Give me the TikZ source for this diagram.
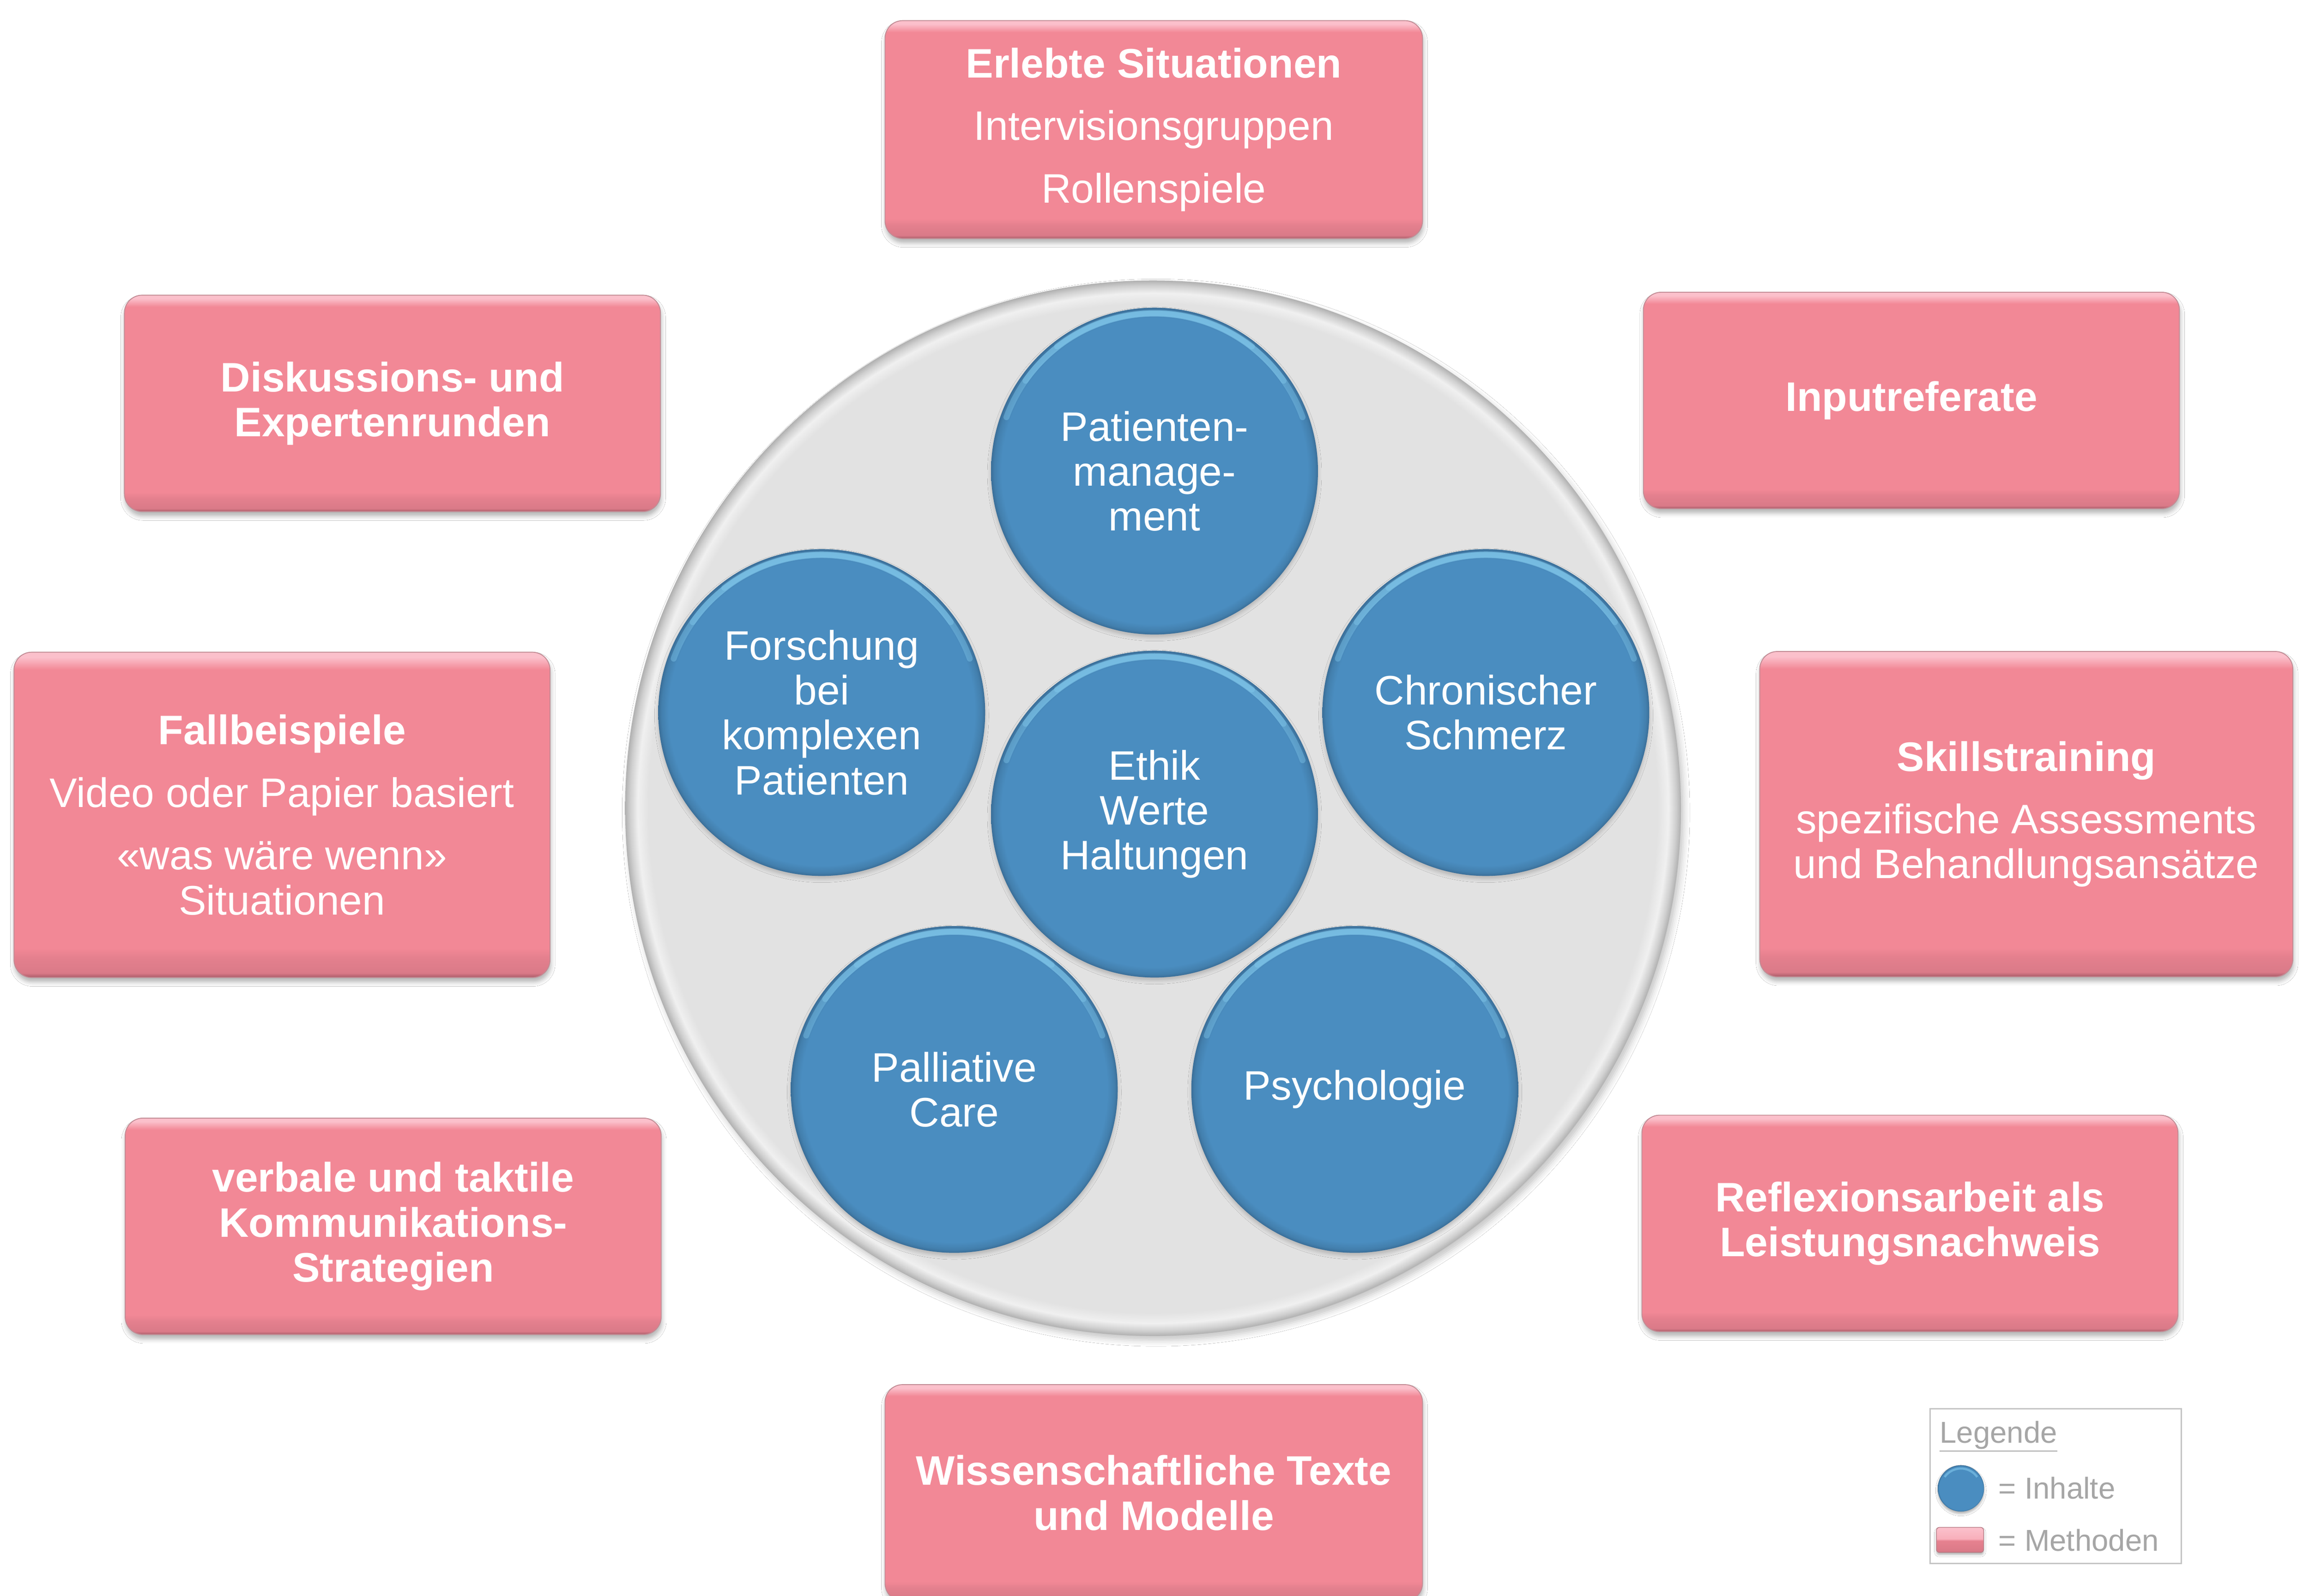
\documentclass[tikz,border=0pt]{standalone}
\usepackage{fontspec}
\setmainfont{Liberation Sans}
\usetikzlibrary{shadows.blur}
\definecolor{pinkmain}{HTML}{F28896}
\definecolor{pinkhi}{HTML}{FBC0CB}
\definecolor{pinkband}{HTML}{DA7A88}
\definecolor{pinkrim}{HTML}{A85B68}
\definecolor{bluemain}{HTML}{4A8DC0}
\definecolor{bluehi}{HTML}{8AD2F4}
\definecolor{bluerim}{HTML}{3A6E98}
\definecolor{graymain}{HTML}{E2E2E2}
\definecolor{graylight}{HTML}{F0F0F0}
\definecolor{grayedge}{HTML}{B0B0B0}
\definecolor{legendgray}{HTML}{A6A6A6}
\definecolor{legendline}{HTML}{C4C4C4}
\pgfdeclareverticalshading{pinkbevel}{100bp}{color(0bp)=(pinkrim); color(25bp)=(pinkrim); color(25.7bp)=(pinkband); color(28bp)=(pinkband!60!pinkmain); color(29.5bp)=(pinkmain); color(72.3bp)=(pinkmain); color(74.2bp)=(pinkhi); color(75bp)=(pinkhi); color(100bp)=(pinkhi)}
\pgfdeclareverticalshading{pinkmini}{100bp}{color(0bp)=(pinkrim); color(25bp)=(pinkrim); color(27bp)=(pinkband); color(48bp)=(pinkband!50!pinkmain); color(52bp)=(pinkhi!70!pinkmain); color(73bp)=(pinkhi); color(75bp)=(pinkhi); color(100bp)=(pinkhi)}
\pgfdeclareradialshading{bluebevel}{\pgfpoint{0bp}{0bp}}{color(0bp)=(bluemain); color(23.4bp)=(bluemain); color(24.5bp)=(bluemain!90!black); color(25bp)=(bluerim); color(50bp)=(bluerim)}
\pgfdeclareradialshading{graybevel}{\pgfpoint{0bp}{0bp}}{color(0bp)=(graymain); color(23.9bp)=(graymain); color(24.4bp)=(graylight); color(24.75bp)=(graymain!92!black); color(25bp)=(grayedge); color(50bp)=(grayedge)}
\newcommand{\mybigfont}{\fontsize{28}{30.5}\selectfont}
\newcommand{\mylegfont}{\fontsize{20.5}{24}\selectfont}
\begin{document}
\begin{tikzpicture}[x=1pt,y=-1pt,
  methodbox/.style={rectangle, rounded corners=12pt, minimum width=364, minimum height=147,
    inner sep=0pt, shading=pinkbevel, draw=pinkrim!70, line width=0.6pt, text=white,
    align=center, font=\mybigfont,
    blur shadow={shadow xshift=0.5pt, shadow yshift=-3pt, shadow blur radius=3pt, shadow opacity=30}},
  tallbox/.style={methodbox, minimum height=221},
  topic/.style={circle, minimum size=222, inner sep=0pt, shading=bluebevel, text=white,
    align=center, font=\mybigfont,
    blur shadow={shadow xshift=0pt, shadow yshift=-2pt, shadow blur radius=2.5pt, shadow opacity=20}},
  hilite/.style={draw=bluehi, line width=4pt, opacity=0.35, line cap=round},
  legtext/.style={text=legendgray, font=\mylegfont, inner sep=0pt, anchor=base west}]
\useasboundingbox (0,0) rectangle (1568,1084);
\fill[white] (0,0) rectangle (1568,1084);

% central disc
\node[circle, minimum size=717, inner sep=0pt, shading=graybevel,
  blur shadow={shadow xshift=2pt, shadow yshift=-3pt, shadow blur radius=4pt, shadow opacity=22}]
  (disc) at (783,549) {};

% topics (Inhalte)
\node[topic] (c1) at (784,320) {Patienten-\\manage-\\ment};
\node[topic] (c2) at (558,484) {Forschung\\bei\\komplexen\\Patienten};
\node[topic] (c3) at (1009,484) {Chronischer\\Schmerz};
\node[topic] (c4) at (784,553) {Ethik\\Werte\\Haltungen};
\node[topic] (c5) at (648,740) {Palliative\\Care};
\node[topic] (c6) at (920,740) {Psychologie};
\foreach \c in {c1,c2,c3,c4,c5,c6}{
  \draw[hilite] ([shift={(200:107)}]\c.center) arc[start angle=200, end angle=340, radius=107];
  \draw[hilite] ([shift={(215:107)}]\c.center) arc[start angle=215, end angle=325, radius=107];
  \draw[hilite] ([shift={(232:107.5)}]\c.center) arc[start angle=232, end angle=308, radius=107.5];
}

% methods (Methoden)
\node[methodbox, minimum width=365, minimum height=148] (b1) at (783.5,88)
  {\textbf{Erlebte Situationen}\\[12pt]Intervisionsgruppen\\[12pt]Rollenspiele};
\node[methodbox] (b2) at (266.5,274) {\textbf{Diskussions- und}\\\textbf{Expertenrunden}};
\node[methodbox] (b3) at (1298,272) {\textbf{Inputreferate}};
\node[tallbox] (b4) at (191.5,553.5)
  {\textbf{Fallbeispiele}\\[12pt]Video oder Papier basiert\\[12pt]«was wäre wenn»\\Situationen};
\node[tallbox, minimum width=362] (b5) at (1376,553)
  {\textbf{Skillstraining}\\[12pt]spezifische Assessments\\und Behandlungsansätze};
\node[methodbox] (b6) at (267,833) {\textbf{verbale und taktile}\\\textbf{Kommunikations-}\\\textbf{Strategien}};
\node[methodbox] (b7) at (1297,831) {\textbf{Reflexionsarbeit als}\\\textbf{Leistungsnachweis}};
\node[methodbox, minimum width=365] (b8) at (783.5,1014) {\textbf{Wissenschaftliche Texte}\\\textbf{und Modelle}};

% legend
\node[rectangle, draw=legendline, line width=0.8pt, minimum width=170.5, minimum height=105,
  inner sep=0pt] (leg) at (1396,1009.5) {};
\node[legtext] (legtitle) at (1317,980) {\underline{Legende}};
\node[circle, minimum size=31.5, inner sep=0pt, shading=bluebevel,
  blur shadow={shadow xshift=0pt, shadow yshift=-1.5pt, shadow blur radius=1.5pt, shadow opacity=30}]
  (legc) at (1331.6,1011) {};
\draw[bluehi, line width=1.5pt, opacity=0.5] ([shift={(215:13.5)}]legc.center) arc[start angle=215, end angle=325, radius=13.5];
\node[rectangle, rounded corners=2pt, minimum width=32, minimum height=17, inner sep=0pt,
  shading=pinkmini, draw=pinkrim!80, line width=0.5pt,
  blur shadow={shadow xshift=0pt, shadow yshift=-1.5pt, shadow blur radius=1.5pt, shadow opacity=30}]
  (legr) at (1331,1046) {};
\node[legtext] (legi) at (1357,1018) {= Inhalte};
\node[legtext] (legm) at (1357,1053.6) {= Methoden};
\end{tikzpicture}
\end{document}
